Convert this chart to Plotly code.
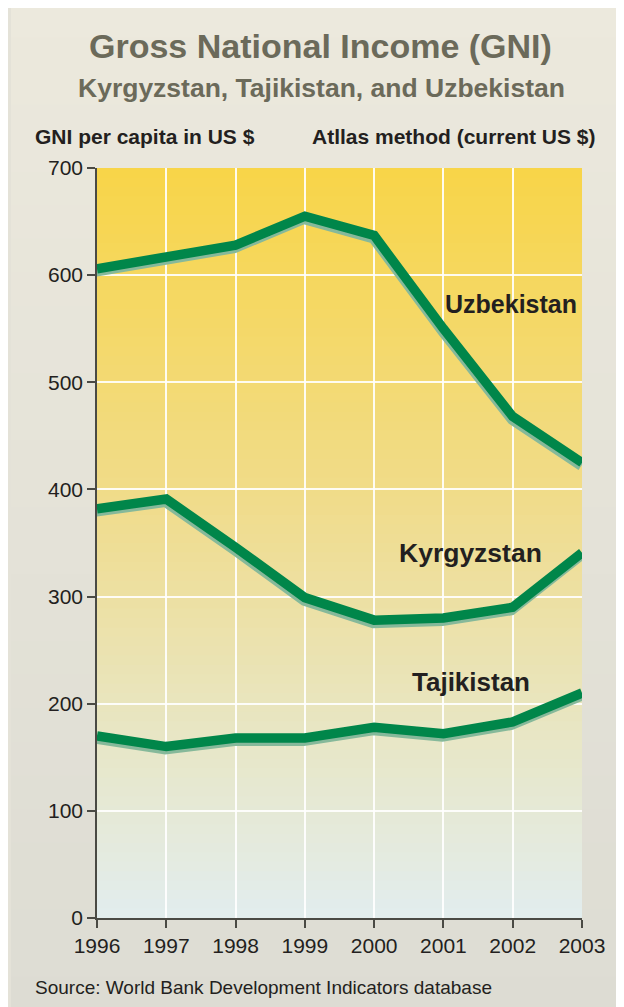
import plotly.graph_objects as go

years = [1996, 1997, 1998, 1999, 2000, 2001, 2002, 2003]
uzbekistan = [606, 616, 628, 655, 637, 550, 468, 425]
kyrgyzstan = [382, 391, 346, 299, 278, 280, 290, 341]
tajikistan = [170, 160, 168, 168, 178, 172, 183, 210]
series = [("Uzbekistan", uzbekistan), ("Kyrgyzstan", kyrgyzstan), ("Tajikistan", tajikistan)]
y_ticks = [0, 100, 200, 300, 400, 500, 600, 700]

OFF = 8  # page body margin
W, H = 624 - OFF, 1007 - OFF
L, R, T, B = 97 - OFF, 582 - OFF, 168 - OFF, 918 - OFF
pw, ph = R - L, B - T

def px(x):
    return (x - OFF - L) / pw

def py(y):
    return (B - (y - OFF)) / ph

GREEN = "#00864a"
SHADOW = "#86b99a"
REG = "Liberation Sans, Arial"

fig = go.Figure()

fig.add_trace(go.Scatter(x=[], y=[], mode="lines", showlegend=False, hoverinfo="skip"))
for name, vals in series:
    fig.add_trace(go.Scatter(x=years, y=vals, mode="lines", xaxis="x2", yaxis="y2",
                             line=dict(color=SHADOW, width=9), hoverinfo="skip", showlegend=False))
for name, vals in series:
    fig.add_trace(go.Scatter(x=years, y=vals, mode="lines", name=name, xaxis="x3", yaxis="y3",
                             line=dict(color=GREEN, width=9.5), showlegend=False))

shapes = []
def lerp(c1, c2, t):
    return tuple(round(a + (b - a) * t) for a, b in zip(c1, c2))

bg_top, bg_bot = (236, 233, 221), (221, 220, 211)
NB = 30
y_top_px, y_bot_px = 4, 1010
for i in range(NB):
    t0 = i / NB
    t1 = (i + 1) / NB
    ya = y_top_px + (y_bot_px - y_top_px) * t0
    yb = y_top_px + (y_bot_px - y_top_px) * t1 + 1
    c = lerp(bg_top, bg_bot, (t0 + t1) / 2)
    shapes.append(dict(type="rect", xref="paper", yref="paper", x0=px(11), x1=px(660),
                       y0=py(yb), y1=py(ya), fillcolor="rgb(%d,%d,%d)" % c,
                       line=dict(width=0), layer="below"))

stops = [(0.0, (248, 213, 72)), (0.45, (240, 220, 140)), (0.75, (232, 230, 196)), (1.0, (226, 237, 238))]
def grad(t):
    for (ta, ca), (tb, cb) in zip(stops[:-1], stops[1:]):
        if ta <= t <= tb:
            return lerp(ca, cb, (t - ta) / (tb - ta))
    return stops[-1][1]

N = 80
for i in range(N):
    t0 = i / N
    t1 = (i + 1) / N
    c = grad((t0 + t1) / 2)
    shapes.append(dict(type="rect", xref="x domain", yref="y domain", x0=0, x1=1,
                       y0=1 - t1 - 0.002, y1=1 - t0, fillcolor="rgb(%d,%d,%d)" % c,
                       line=dict(width=0), layer="below"))

def ann(text, x, y, size, color, anchor="center", family=REG):
    return dict(text=text, x=px(x), y=py(y), xref="paper", yref="paper",
                showarrow=False, xanchor=anchor, yanchor="middle",
                font=dict(family=family, size=size, color=color))

annotations = [
    ann("<b>Gross National Income (GNI)</b>", 320, 46, 34, "#6b6a5a"),
    ann("<b>Kyrgyzstan, Tajikistan, and Uzbekistan</b>", 321, 88, 26.5, "#6b6a5a"),
    ann("<b>GNI per capita in US $</b>", 33, 137, 21, "#231f20", "left"),
    ann("<b>Atllas method (current US $)</b>", 598, 137, 21, "#231f20", "right"),
    ann("Source: World Bank Development Indicators database", 33, 987, 19, "#231f20", "left"),
    ann("<b>Uzbekistan</b>", 511, 304, 25, "#231f20"),
    ann("<b>Kyrgyzstan</b>", 470, 553, 26.5, "#231f20"),
    ann("<b>Tajikistan</b>", 471, 682, 26, "#231f20"),
]

dy = 3.5 * 700 / ph
dx = 1 * 7 / pw

fig.update_layout(
    width=W, height=H,
    margin=dict(l=L, r=W - R, t=T, b=H - B, pad=0),
    paper_bgcolor="rgb(228,226,216)",
    plot_bgcolor="rgba(0,0,0,0)",
    shapes=shapes,
    annotations=annotations,
    xaxis=dict(range=[1996, 2003], tickvals=years, ticktext=[str(y) for y in years],
               showgrid=True, gridcolor="rgba(255,255,255,0.9)", gridwidth=1.5,
               showline=True, linecolor="#4a4a44", linewidth=1.5,
               ticks="outside", ticklen=8, tickcolor="#4a4a44", tickwidth=1.5,
               tickfont=dict(family=REG, size=21, color="#231f20"),
               zeroline=False, fixedrange=True),
    yaxis=dict(range=[0, 700], tickvals=y_ticks,
               showgrid=True, gridcolor="rgba(255,255,255,0.9)", gridwidth=1.5,
               showline=True, linecolor="#4a4a44", linewidth=1.5,
               ticks="outside", ticklen=8, tickcolor="#4a4a44", tickwidth=1.5,
               tickfont=dict(family=REG, size=21, color="#231f20"),
               zeroline=False, fixedrange=True),
    xaxis2=dict(range=[1996 + dx, 2003 + dx], overlaying="x", visible=False, fixedrange=True),
    yaxis2=dict(range=[dy, 700 + dy], overlaying="y", visible=False, fixedrange=True),
    xaxis3=dict(range=[1996, 2003], overlaying="x", visible=False, fixedrange=True),
    yaxis3=dict(range=[0, 700], overlaying="y", visible=False, fixedrange=True),
)

fig.write_html("out.html")
